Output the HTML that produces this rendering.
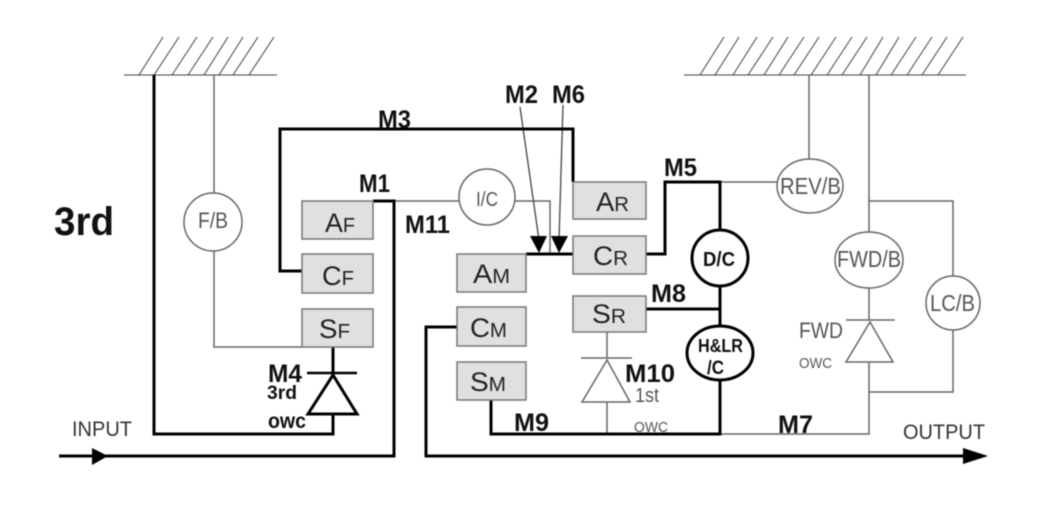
<!DOCTYPE html>
<html><head><meta charset="utf-8"><style>
html,body{margin:0;padding:0;background:#fff;width:1050px;height:514px;overflow:hidden}
svg{display:block;filter:blur(.4px)}
text{font-family:"Liberation Sans",sans-serif}
.b{font-weight:bold;fill:#111}
.m{font-weight:bold;font-size:25px;fill:#111}
.g{fill:#555}
.bx{fill:#e0e0e0;stroke:#777;stroke-width:1.5}
.l{font-size:27px;fill:#222}
.l tspan{font-size:20px}
.t{fill:none;stroke:#666;stroke-width:1.5}
.k{fill:none;stroke:#000;stroke-width:3}
.h{stroke:#444;stroke-width:1}
.c{fill:#fff;stroke:#666;stroke-width:1.5}
.d{fill:#fff;stroke:#000;stroke-width:3}
</style></head><body>
<svg width="1050" height="514" viewBox="0 0 1050 514" xmlns="http://www.w3.org/2000/svg">
<rect width="1050" height="514" fill="#fff"/>

<!-- grounds -->
<g class="h">
<line x1="124" y1="75" x2="277" y2="75"/>
<line x1="139" y1="75" x2="163" y2="37"/><line x1="154" y1="75" x2="179" y2="37"/><line x1="172" y1="75" x2="197" y2="37"/><line x1="188" y1="75" x2="213" y2="37"/><line x1="204" y1="75" x2="228" y2="37"/><line x1="219" y1="75" x2="243" y2="37"/><line x1="233" y1="75" x2="258" y2="37"/><line x1="249" y1="75" x2="274" y2="37"/>
<line x1="684" y1="75" x2="966" y2="75"/>
<line x1="700" y1="75" x2="724" y2="37"/><line x1="715" y1="75" x2="739" y2="37"/><line x1="733" y1="75" x2="757" y2="37"/><line x1="748" y1="75" x2="773" y2="37"/><line x1="764" y1="75" x2="788" y2="37"/><line x1="779" y1="75" x2="804" y2="37"/><line x1="794" y1="75" x2="819" y2="37"/><line x1="811" y1="75" x2="836" y2="37"/><line x1="827" y1="75" x2="852" y2="37"/><line x1="842" y1="75" x2="867" y2="37"/><line x1="860" y1="75" x2="883" y2="37"/><line x1="876" y1="75" x2="899" y2="37"/><line x1="891" y1="75" x2="916" y2="37"/><line x1="907" y1="75" x2="932" y2="37"/><line x1="922" y1="75" x2="947" y2="37"/><line x1="938" y1="75" x2="963" y2="37"/>
</g>

<!-- thin connectors -->
<path class="t" d="M214 75V193M214 251V347H302"/>
<path class="t" d="M394 201H459M515 201H550V254"/>
<path class="t" d="M720 182H777M809 75V159"/>
<path class="t" d="M869 75V232M869 288V320M869 362V434H720"/>
<path class="t" d="M869 201H953V277M953 330V392H869"/>
<path class="t" d="M607 332V358M607 402V434"/>
<path fill="none" stroke="#444" stroke-width="1.3" d="M520 107L539 240M563 105L559 240"/>

<!-- thick connectors -->
<path class="k" d="M154 75V434H333V415"/>
<path class="k" d="M333 347V373"/>
<path class="k" d="M302 271H280V129H573V182"/>
<path class="k" d="M373 201H394V456H59"/>
<path class="k" d="M526 254H573"/>
<path class="k" d="M646 254H665V182H720V230"/>
<path class="k" d="M720 286V327M646 309H720M720 380V434H491V400"/>
<path class="k" d="M457 327H426V456H970"/>

<!-- arrowheads -->
<polygon points="92,448 108,456 92,465" fill="#000"/>
<polygon points="963,448 988,456 963,464" fill="#000"/>
<polygon points="530,236 547,236 539,253" fill="#000"/>
<polygon points="551,236 568,236 559,253" fill="#000"/>

<!-- one way clutches -->
<path d="M307 373H357" stroke="#000" stroke-width="2.5" fill="none"/>
<polygon points="333,375 357,414 308,414" fill="#fff" stroke="#000" stroke-width="3"/>
<path class="t" d="M581 358H632" stroke-width="1.2"/>
<polygon points="607,360 630,402 582,402" fill="#fff" stroke="#666" stroke-width="1.5"/>
<path class="t" d="M846 320H895"/>
<polygon points="870,322 893,362 846,362" fill="#fff" stroke="#666" stroke-width="1.5"/>

<!-- boxes -->
<rect class="bx" x="302" y="201" width="71" height="38"/>
<rect class="bx" x="302" y="254" width="71" height="39"/>
<rect class="bx" x="302" y="309" width="71" height="38"/>
<rect class="bx" x="457" y="254" width="69" height="38"/>
<rect class="bx" x="457" y="307" width="69" height="39"/>
<rect class="bx" x="457" y="362" width="69" height="38"/>
<rect class="bx" x="573" y="182" width="73" height="37"/>
<rect class="bx" x="573" y="236" width="73" height="38"/>
<rect class="bx" x="573" y="296" width="73" height="36"/>

<!-- circles -->
<circle class="c" cx="213" cy="222" r="29"/>
<circle class="c" cx="487" cy="197" r="28"/>
<ellipse class="c" cx="810" cy="186" rx="33" ry="27"/>
<ellipse class="c" cx="869" cy="260" rx="34" ry="28"/>
<circle class="c" cx="953" cy="303" r="27"/>
<circle class="d" cx="720" cy="258" r="28"/>
<ellipse class="d" cx="720" cy="353" rx="33" ry="27"/>

<!-- box labels -->
<text class="l" x="325" y="232" textLength="30" lengthAdjust="spacingAndGlyphs">A<tspan>F</tspan></text>
<text class="l" x="322" y="285" textLength="32" lengthAdjust="spacingAndGlyphs">C<tspan>F</tspan></text>
<text class="l" x="319" y="338" textLength="31" lengthAdjust="spacingAndGlyphs">S<tspan>F</tspan></text>
<text class="l" x="596" y="211" textLength="33" lengthAdjust="spacingAndGlyphs">A<tspan>R</tspan></text>
<text class="l" x="593" y="265" textLength="35" lengthAdjust="spacingAndGlyphs">C<tspan>R</tspan></text>
<text class="l" x="592" y="323" textLength="34" lengthAdjust="spacingAndGlyphs">S<tspan>R</tspan></text>
<text class="l" x="473" y="283" textLength="37" lengthAdjust="spacingAndGlyphs">A<tspan>M</tspan></text>
<text class="l" x="470" y="337" textLength="37" lengthAdjust="spacingAndGlyphs">C<tspan>M</tspan></text>
<text class="l" x="470" y="391" textLength="36" lengthAdjust="spacingAndGlyphs">S<tspan>M</tspan></text>

<!-- circle labels -->
<text class="g" x="198" y="228" font-size="22" textLength="30" lengthAdjust="spacingAndGlyphs">F/B</text>
<text class="g" x="476" y="206" font-size="20" textLength="22" lengthAdjust="spacingAndGlyphs">I/C</text>
<text class="g" x="780" y="194" font-size="23" textLength="61" lengthAdjust="spacingAndGlyphs">REV/B</text>
<text class="g" x="837" y="267" font-size="23" textLength="64" lengthAdjust="spacingAndGlyphs">FWD/B</text>
<text class="g" x="930" y="311" font-size="23" textLength="45" lengthAdjust="spacingAndGlyphs">LC/B</text>
<text class="b" x="703" y="266" font-size="20" textLength="32" lengthAdjust="spacingAndGlyphs">D/C</text>
<text class="b" x="698" y="352" font-size="18" textLength="45" lengthAdjust="spacingAndGlyphs">H&amp;LR</text>
<text class="b" x="707" y="374" font-size="19" textLength="17" lengthAdjust="spacingAndGlyphs">/C</text>

<!-- member labels -->
<text class="b" x="54" y="235" font-size="40" textLength="60" lengthAdjust="spacingAndGlyphs">3rd</text>
<text class="m" x="378" y="128" textLength="33" lengthAdjust="spacingAndGlyphs">M3</text>
<text class="m" x="359" y="192" textLength="31" lengthAdjust="spacingAndGlyphs">M1</text>
<text class="m" x="405" y="233" textLength="45" lengthAdjust="spacingAndGlyphs">M11</text>
<text class="m" x="505" y="103" textLength="33" lengthAdjust="spacingAndGlyphs">M2</text>
<text class="m" x="552" y="103" textLength="33" lengthAdjust="spacingAndGlyphs">M6</text>
<text class="m" x="664" y="176" textLength="33" lengthAdjust="spacingAndGlyphs">M5</text>
<text class="m" x="651" y="302" textLength="35" lengthAdjust="spacingAndGlyphs">M8</text>
<text class="m" x="625" y="382" textLength="50" lengthAdjust="spacingAndGlyphs">M10</text>
<text class="m" x="514" y="431" textLength="35" lengthAdjust="spacingAndGlyphs">M9</text>
<text class="m" x="778" y="433" textLength="35" lengthAdjust="spacingAndGlyphs">M7</text>
<text class="m" x="268" y="382" textLength="34" lengthAdjust="spacingAndGlyphs">M4</text>
<text class="b" x="267" y="399" font-size="19" textLength="30" lengthAdjust="spacingAndGlyphs">3rd</text>
<text class="b" x="268" y="428" font-size="21" textLength="38" lengthAdjust="spacingAndGlyphs">owc</text>

<!-- misc -->
<text x="72" y="436" font-size="21" fill="#333" textLength="60" lengthAdjust="spacingAndGlyphs">INPUT</text>
<text x="903" y="439" font-size="21" fill="#333" textLength="82" lengthAdjust="spacingAndGlyphs">OUTPUT</text>
<text class="g" x="799" y="338" font-size="22" textLength="44" lengthAdjust="spacingAndGlyphs">FWD</text>
<text class="g" x="799" y="368" font-size="15" textLength="33" lengthAdjust="spacingAndGlyphs">OWC</text>
<text class="g" x="635" y="402" font-size="20" textLength="24" lengthAdjust="spacingAndGlyphs">1st</text>
<text class="g" x="634" y="432" font-size="15" textLength="34" lengthAdjust="spacingAndGlyphs">OWC</text>
</svg>
</body></html>
